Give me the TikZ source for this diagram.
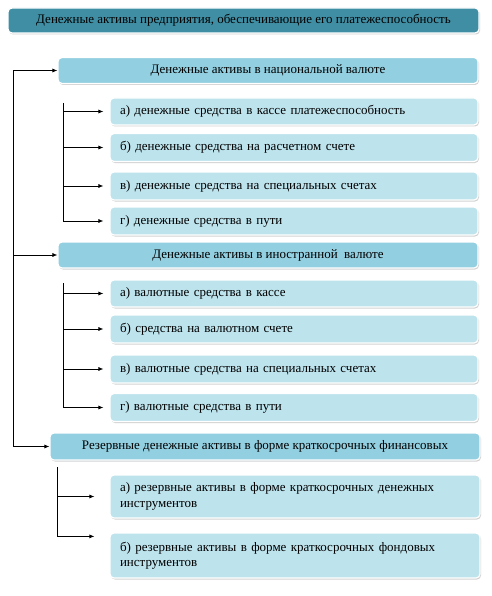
\documentclass[tikz,border=0pt]{standalone}
\usepackage{fontspec}
\setmainfont{Liberation Serif}
\usetikzlibrary{arrows.meta, shadows}
\definecolor{topblue}{HTML}{3F8EA4}
\definecolor{headblue}{HTML}{92CFE0}
\definecolor{itemblue}{HTML}{BDE3ED}
\begin{document}
\begin{tikzpicture}[x=1pt, y=-1pt,
  box/.style={rounded corners=4pt, draw=white, line width=1.2pt, inner sep=0pt,
    drop shadow={shadow xshift=1pt, shadow yshift=-1.5pt, fill=black!35},
    font=\rmfamily\fontsize{13}{15.5}\selectfont},
  topbox/.style={box, fill=topblue, minimum width=471pt, minimum height=25pt},
  headbox/.style={box, fill=headblue, minimum height=26pt},
  itembox/.style={box, fill=itemblue, minimum width=368pt, text width=348pt, align=left, minimum height=28pt},
  link/.style={line width=0.7pt},
  arr/.style={link, -{Latex[length=5pt,width=4pt]}}]
\useasboundingbox (0,0) rectangle (491,596);

\node[topbox] (top) at (243.5,20.5) {Денежные активы предприятия, обеспечивающие его платежеспособность};

\node[headbox, minimum width=420pt] (nat) at (268,70.5) {Денежные активы в национальной валюте};
\node[itembox, minimum height=27pt] (na) at (294,111.5) {а) денежные средства в кассе платежеспособность};
\node[itembox] (nb) at (294,147.5) {б) денежные средства на расчетном счете};
\node[itembox] (nc) at (294,186) {в) денежные средства на специальных счетах};
\node[itembox] (nd) at (294,221) {г) денежные средства в пути};

\node[headbox, minimum width=420pt] (forn) at (268,255) {Денежные активы в иностранной\ \ валюте};
\node[itembox, minimum height=27pt] (fa) at (294,293.5) {а) валютные средства в кассе};
\node[itembox] (fb) at (294,329) {б) средства на валютном счете};
\node[itembox] (fc) at (294,369) {в) валютные средства на специальных счетах};
\node[itembox] (fd) at (294,407.5) {г) валютные средства в пути};

\node[headbox, minimum width=430pt, minimum height=27pt] (res) at (265,446.5) {Резервные денежные активы в форме краткосрочных финансовых};
\node[itembox, minimum width=370pt, text width=350pt, minimum height=43pt] (ra) at (295,496.5) {а) резервные активы в форме краткосрочных денежных\\инструментов};
\node[itembox, minimum width=370pt, text width=350pt, minimum height=45pt] (rb) at (295,555.5) {б) резервные активы в форме краткосрочных фондовых\\инструментов};

\coordinate (spine) at (13,70);
\draw[link] (spine |- nat.west) -- (spine |- res.west);
\foreach \n in {nat, forn, res}
  \draw[arr] (spine |- \n.west) -- (\n.west);

\coordinate (natv) at (63,103);
\draw[link] (natv) -- (natv |- nd.west);
\foreach \n in {na, nb, nc, nd}
  \draw[arr, shorten >=6pt] (natv |- \n.west) -- (\n.west);

\coordinate (fornv) at (63,283);
\draw[link] (fornv) -- (fornv |- fd.west);
\foreach \n in {fa, fb, fc, fd}
  \draw[arr, shorten >=6pt] (fornv |- \n.west) -- (\n.west);

\coordinate (resv) at (57,467);
\coordinate (rbin) at ([yshift=-4pt]rb.north west);
\draw[link] (resv) -- (resv |- rbin);
\draw[arr, shorten >=15pt] (resv |- ra.west) -- (ra.west);
\draw[arr, shorten >=15pt] (resv |- rbin) -- (rbin);
\end{tikzpicture}
\end{document}
